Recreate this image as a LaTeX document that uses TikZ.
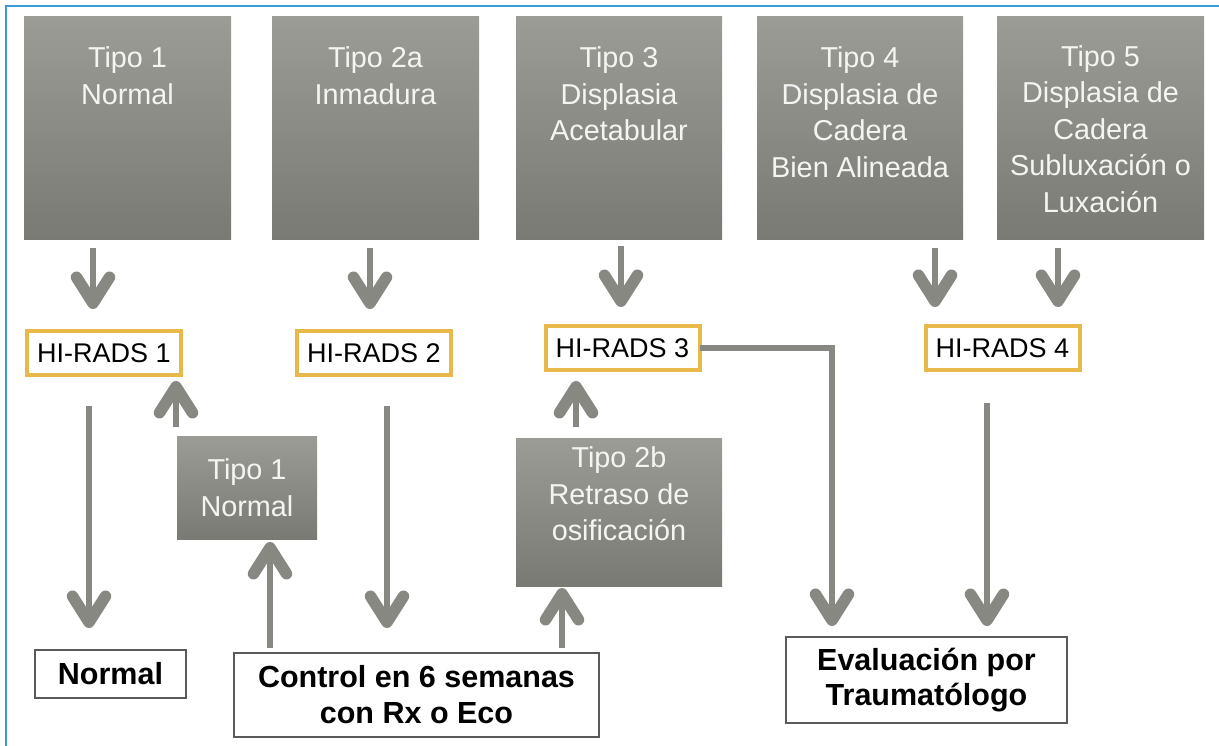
\documentclass[tikz,border=0pt]{standalone}
\usepackage{fontspec}
\setmainfont{Liberation Sans}
\usetikzlibrary{arrows.meta,calc}
\definecolor{framebl}{HTML}{3A9AD9}
\definecolor{boxtop}{HTML}{9C9C96}
\definecolor{boxbot}{HTML}{7A7A75}
\definecolor{arrgray}{HTML}{888883}
\definecolor{gold}{HTML}{E8B84B}
\definecolor{txtw}{HTML}{F4F4F2}
\definecolor{outline}{HTML}{5A5A5A}
\begin{document}
\begin{tikzpicture}[x=1pt,y=-1pt,
  graybox/.style={rectangle, inner sep=0pt, outer sep=0pt, top color=boxtop, bottom color=boxbot, draw=none},
  graytext/.style={text=txtw, align=center, inner sep=0pt, font=\fontsize{28.8}{36.5}\selectfont},
  hirads/.style={rectangle, draw=gold, line width=4pt, fill=white, minimum width=154pt, minimum height=44pt, inner sep=0pt, outer sep=0pt, font=\fontsize{27}{32}\selectfont},
  outbox/.style={rectangle, draw=outline, line width=2pt, fill=white, inner sep=0pt, outer sep=0pt, align=center, font=\fontsize{30.5}{36}\selectfont\bfseries},
  arr/.style={draw=arrgray, line width=5.5pt, -{Straight Barb[length=26pt,width=33pt,line width=11.5pt,round]}},
  plain/.style={draw=arrgray, line width=5.5pt}
]
\useasboundingbox (0,0) rectangle (1219,746);
\fill[white] (0,0) rectangle (1219,746);
\draw[framebl, line width=2.5pt] (6,746) -- (6,6) -- (1219,6);

% top boxes
\node[graybox, minimum width=207pt, minimum height=223pt] (t1) at (127.5,128.5) {};
\node[graybox, minimum width=207pt, minimum height=223pt] (t2) at (375.5,128.5) {};
\node[graybox, minimum width=206pt, minimum height=223pt] (t3) at (619,128.5) {};
\node[graybox, minimum width=206pt, minimum height=223pt] (t4) at (860,128.5) {};
\node[graybox, minimum width=207pt, minimum height=223pt] (t5) at (1100.5,128.5) {};
\node[graytext, anchor=north] (t1l) at ($(t1.north)+(0,29.5)$) {Tipo 1\\Normal};
\node[graytext, anchor=north] (t2l) at ($(t2.north)+(0,29.5)$) {Tipo 2a\\Inmadura};
\node[graytext, anchor=north] (t3l) at ($(t3.north)+(0,29.5)$) {Tipo 3\\Displasia\\Acetabular};
\node[graytext, anchor=north] (t4l) at ($(t4.north)+(0,29.5)$) {Tipo 4\\Displasia de\\Cadera\\Bien Alineada};
\node[graytext, anchor=north] (t5l) at ($(t5.north)+(0,28)$) {Tipo 5\\Displasia de\\Cadera\\Subluxación o\\Luxación};

% HI-RADS
\node[hirads] (h1) at (104,353) {HI-RADS 1};
\node[hirads] (h2) at (374,353) {HI-RADS 2};
\node[hirads] (h3) at (622.5,348) {HI-RADS 3};
\node[hirads] (h4) at (1002.5,348) {HI-RADS 4};

% middle gray boxes
\node[graybox, minimum width=140pt, minimum height=103pt] (s1) at (247,487.5) {};
\node[graytext] (s1l) at (s1.center) {Tipo 1\\Normal};
\node[graybox, minimum width=206pt, minimum height=148pt] (b2) at (619,512) {};
\node[graytext, anchor=north] (b2l) at ($(b2.north)+(0,8.5)$) {Tipo 2b\\Retraso de\\osificación};

% bottom boxes
\node[outbox, minimum width=151pt, minimum height=48pt] (nor) at (110.5,674) {Normal};
\node[outbox, minimum width=365pt, minimum height=84pt] (ctl) at (416.5,695) {Control en 6 semanas\\con Rx o Eco};
\node[outbox, minimum width=281pt, minimum height=86pt, font=\fontsize{30.5}{35}\selectfont\bfseries] (eva) at (926.5,680) {Evaluación por\\Traumatólogo};

% arrows top -> HI-RADS
\draw[arr] ($(t1.south -| 93,0)+(0,8)$) -- ($(h1.north -| 93,0)+(0,-22)$);
\draw[arr] ($(t2.south -| 370,0)+(0,8)$) -- ($(h2.north -| 370,0)+(0,-22)$);
\draw[arr] ($(t3.south -| 621,0)+(0,6)$) -- ($(h3.north -| 621,0)+(0,-19)$);
\draw[arr] ($(t4.south -| 935,0)+(0,8)$) -- ($(h4.north -| 935,0)+(0,-19)$);
\draw[arr] ($(t5.south -| 1058,0)+(0,8)$) -- ($(h4.north -| 1058,0)+(0,-19)$);

% HI-RADS -> outcomes
\draw[arr] ($(h1.south -| 89,0)+(0,31)$) -- ($(nor.north -| 89,0)+(0,-22)$);
\draw[arr] ($(h2.south -| 387,0)+(0,31)$) -- ($(ctl.north -| 387,0)+(0,-25)$);
\draw[arr] ($(h4.south -| 987,0)+(0,33)$) -- ($(eva.north -| 987,0)+(0,-11)$);
\draw[arr] (h3.east) -- (h3.east -| 832,0) -- ($(eva.north -| 832,0)+(0,-11)$);

% control -> re-evaluation
\draw[arr] ($(ctl.north -| 270,0)+(0,-5)$) -- ($(s1.south -| 270,0)+(0,3)$);
\draw[arr] ($(s1.north -| 176,0)+(0,-9)$) -- ($(h1.south -| 176,0)+(0,6)$);
\draw[arr] ($(ctl.north -| 562,0)+(0,-5)$) -- ($(b2.south -| 562,0)+(0,2)$);
\draw[arr] ($(b2.north -| 576,0)+(0,-11)$) -- ($(h3.south -| 576,0)+(0,11)$);
\end{tikzpicture}
\end{document}
